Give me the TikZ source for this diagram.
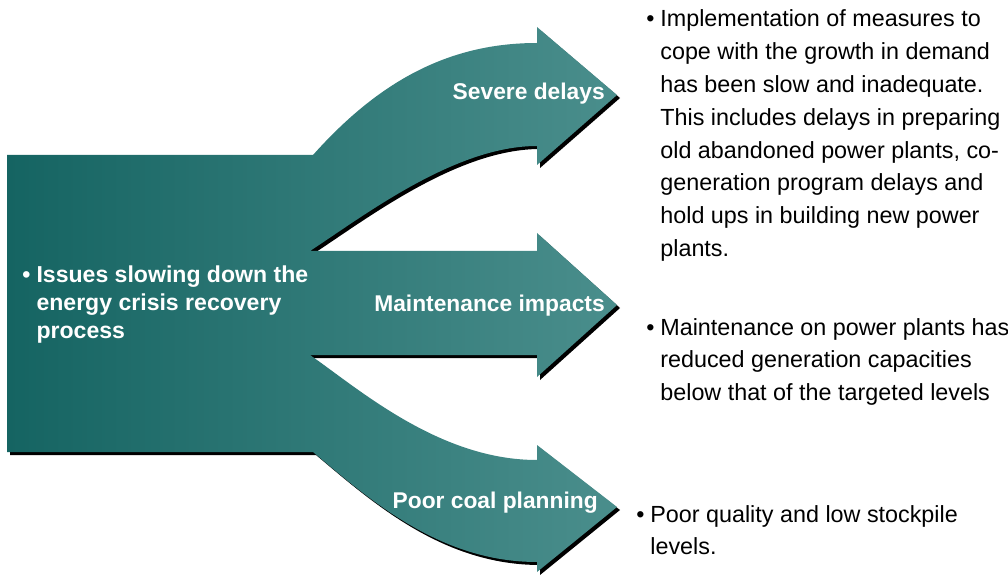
\documentclass[tikz,border=0pt]{standalone}
\usepackage{fontspec}
\setmainfont{Liberation Sans}
\usetikzlibrary{positioning}
\definecolor{tealdark}{HTML}{156462}
\definecolor{teallight}{HTML}{4A8E8C}
\tikzset{
  flowlabel/.style={
    text=white,
    inner sep=0pt,
    anchor=base east,
    font=\bfseries\fontsize{16.2}{19}\selectfont
  },
  issuetext/.style={
    text=white,
    inner sep=0pt,
    anchor=base west,
    align=left,
    font=\bfseries\fontsize{16.4}{19.8}\selectfont
  },
  notetext/.style={
    text=black,
    inner sep=0pt,
    anchor=base west,
    font=\fontsize{16.6}{23.3}\selectfont
  }
}
% outline of the box with its three arrows, in pixel units
\newcommand{\flowoutline}{%
  (7,155) -- (313,155)
  .. controls (380,80) and (450,43) .. (537,43)
  -- (537,27) -- (617,95) -- (537,165) -- (537,146)
  .. controls (455,146) and (365,215) .. (310,251)
  -- (537,251) -- (537,233) -- (617,305) -- (537,377) -- (537,355)
  -- (310,355)
  .. controls (360,390) and (440,460) .. (537,460)
  -- (537,445) -- (617,507) -- (537,572) -- (537,562)
  .. controls (440,562) and (370,500) .. (313,452)
  -- (7,452) -- cycle}
\newcommand{\issuenote}[4]{%
  \node[notetext] (#1) at (#2) {\textbullet\hspace{4.2pt}\parbox[t]{#3}{\raggedright #4}};
}

\begin{document}
\begin{tikzpicture}[x=0.025cm, y=-0.025cm]
  \useasboundingbox (0,0) rectangle (1008,577);

  % --- shadow, then the shaded shape ---
  \fill[black, shift={(3,3)}] \flowoutline;
  \shade[left color=tealdark, right color=teallight] \flowoutline;

  % --- text on the shape ---
  \node[issuetext] (issues) at (22,283) {\textbullet\hspace{4.4pt}\parbox[t]{12cm}{\raggedright
    Issues slowing down the\\ energy crisis recovery\\ process}};
  \node[flowlabel] (delays) at (605,100) {Severe delays};
  \node[flowlabel] (maint) at (605,312) {Maintenance impacts};
  \node[flowlabel] (coal) at (598,508) {Poor coal planning};

  % --- notes on the right ---
  \issuenote{delaysnote}{646,27}{12cm}{%
    Implementation of measures to\\ cope with the growth in demand\\
    has been slow and inadequate.\\ This includes delays in preparing\\
    old abandoned power plants, co-\\ generation program delays and\\
    hold ups in building new power\\ plants.}
  \issuenote{maintnote}{646,335}{12cm}{%
    Maintenance on power plants has\\ reduced generation capacities\\
    below that of the targeted levels}
  \issuenote{coalnote}{636,522}{12cm}{%
    Poor quality and low stockpile\\ levels.}

\end{tikzpicture}
\end{document}
